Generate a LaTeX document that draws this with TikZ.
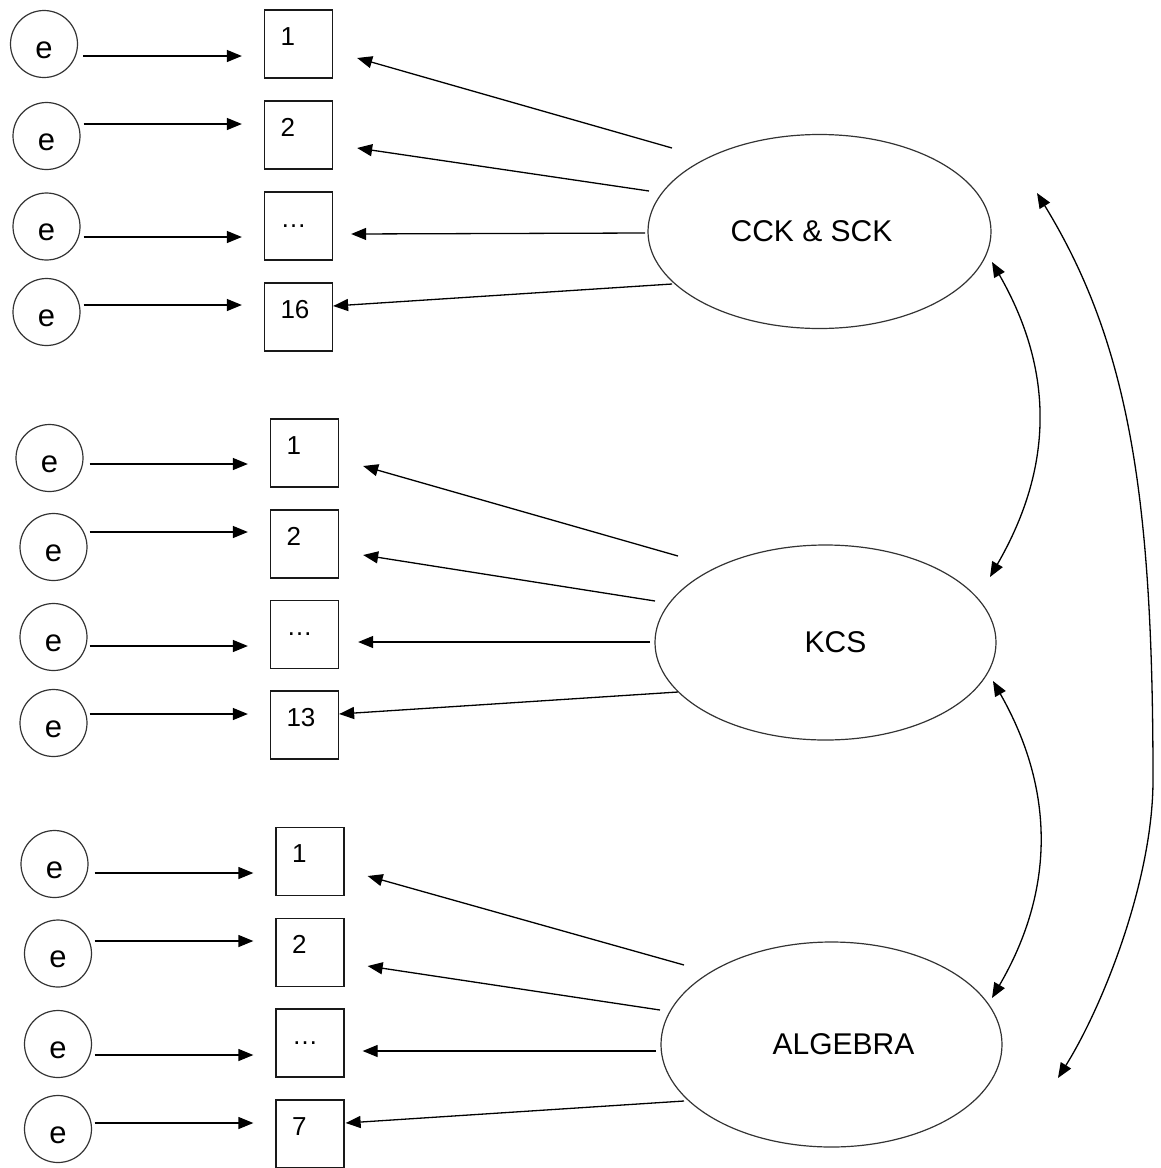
\documentclass[tikz,border=0pt]{standalone}
\usepackage{fontspec}
\setmainfont{Liberation Sans}
\usetikzlibrary{arrows.meta,calc,shapes.geometric}

\tikzset{
  errc/.style={circle, draw=black!80, line width=1.2pt, minimum size=67pt, inner sep=0pt,
    font=\fontsize{31}{31}\selectfont, text height=28pt, text depth=0pt},
  indic/.style={rectangle, draw=black!90, line width=1.3pt, minimum width=68pt, minimum height=68pt,
    inner sep=0pt, font=\fontsize{26}{26}\selectfont, text width=36pt, align=left,
    text height=2pt, text depth=0pt},
  factor/.style={ellipse, draw=black!80, line width=1.2pt, inner sep=0pt,
    minimum width=343pt, minimum height=194pt, font=\fontsize{30}{30}\selectfont},
  arr/.style={line width=1.3pt, -{Triangle[length=15pt,width=12pt]}},
  darr/.style={line width=1.3pt, {Triangle[length=15pt,width=12pt]}-{Triangle[length=15pt,width=12pt]}},
}

\newcommand\errarrow[4]{\draw[arr] ($(#1.east)+(#3,#4)$) coordinate (#1s) -- ($(#2.west |- #1s)+(-22,0)$);}

\begin{document}
\begin{tikzpicture}[x=1pt,y=-1pt]
\useasboundingbox (0,0) rectangle (1160,1168);

% ---------- group 1 ----------
\node[errc] (e11) at (44,44) {e};
\node[errc] (e12) at (46.5,136) {e};
\node[errc] (e13) at (46.5,226.5) {e};
\node[errc] (e14) at (46.5,312) {e};
\node[indic] (b11) at (298.5,44) {1};
\node[indic] (b12) at (298.5,135) {2};
\node[indic] (b13) at (298.5,226) {…};
\node[indic] (b14) at (298.5,317) {16};
\node[factor] (cck) at (819.5,231.5) {\hspace*{-16pt}CCK \& SCK};

% ---------- group 2 ----------
\node[errc] (e21) at (49.5,458) {e};
\node[errc] (e22) at (53.5,547) {e};
\node[errc] (e23) at (53.5,637) {e};
\node[errc] (e24) at (53.5,723) {e};
\node[indic] (b21) at (304.5,453) {1};
\node[indic] (b22) at (304.5,544) {2};
\node[indic] (b23) at (304.5,634.5) {…};
\node[indic] (b24) at (304.5,725) {13};
\node[factor, minimum width=341pt, minimum height=195pt] (kcs) at (825.5,642.5) {\hspace*{20pt}KCS};

% ---------- group 3 ----------
\node[errc] (e31) at (54.5,864) {e};
\node[errc] (e32) at (58,953.5) {e};
\node[errc] (e33) at (58,1044) {e};
\node[errc] (e34) at (58,1129) {e};
\node[indic] (b31) at (310,861.5) {1};
\node[indic] (b32) at (310,952.5) {2};
\node[indic] (b33) at (310,1043) {…};
\node[indic] (b34) at (310,1134) {7};
\node[factor, minimum width=341pt, minimum height=205pt] (alg) at (831.5,1044.5) {\hspace*{24pt}ALGEBRA};

% ---------- error arrows ----------
\errarrow{e11}{b11}{5}{12}
\errarrow{e12}{b12}{3}{-12}
\errarrow{e13}{b13}{3}{10.5}
\errarrow{e14}{b14}{3}{-7}
\errarrow{e21}{b21}{6}{6}
\errarrow{e22}{b22}{2}{-15}
\errarrow{e23}{b23}{2}{9}
\errarrow{e24}{b24}{2}{-9}
\errarrow{e31}{b31}{6}{9}
\errarrow{e32}{b32}{2.5}{-12.5}
\errarrow{e33}{b33}{2.5}{11}
\errarrow{e34}{b34}{2.5}{-6}

% ---------- loadings ----------
\draw[arr] ($(cck.center)+(-147.5,-83.5)$) -- ($(b11.east)+(24,14)$);
\draw[arr] ($(cck.center)+(-170.5,-40.5)$) -- ($(b12.east)+(24,13)$);
\draw[arr] ($(cck.center)+(-174.5,1.5)$) -- ($(b13.east)+(18,8)$);
\draw[arr] ($(cck.center)+(-147.5,52.5)$) -- ($(b14.east)+(0,-11)$);

\draw[arr] ($(kcs.center)+(-147.5,-86.5)$) -- ($(b21.east)+(24,13)$);
\draw[arr] ($(kcs.center)+(-170.5,-41.5)$) -- ($(b22.east)+(24,11)$);
\draw[arr] ($(kcs.center)+(-175.5,-0.5)$) -- ($(b23.east)+(19,7.5)$);
\draw[arr] ($(kcs.center)+(-147.5,49.5)$) -- ($(b24.east)+(0,-11)$);

\draw[arr] ($(alg.center)+(-147.5,-79.5)$) -- ($(b31.east)+(23,14.5)$);
\draw[arr] ($(alg.center)+(-171.5,-34.5)$) -- ($(b32.east)+(23,13.5)$);
\draw[arr] ($(alg.center)+(-175.5,6.5)$) -- ($(b33.east)+(18,8)$);
\draw[arr] ($(alg.center)+(-147.5,56.5)$) -- ($(b34.east)+(1,-11)$);

% ---------- correlations ----------
\draw[darr] ($(cck.center)+(172.5,30.5)$) .. controls (1055,372) and (1053,468) .. ($(kcs.center)+(164.5,-65.5)$);
\draw[darr] ($(kcs.center)+(167.5,38.5)$) .. controls (1055,790) and (1055,890) .. ($(alg.center)+(160.5,-46.5)$);
\draw[darr] ($(cck.center)+(217.5,-38.5)$) .. controls (1130,345) and (1153,500) .. (1153,780)
   .. controls (1153,880) and (1103,1006) .. ($(alg.center)+(226.5,33.5)$);
\end{tikzpicture}
\end{document}
